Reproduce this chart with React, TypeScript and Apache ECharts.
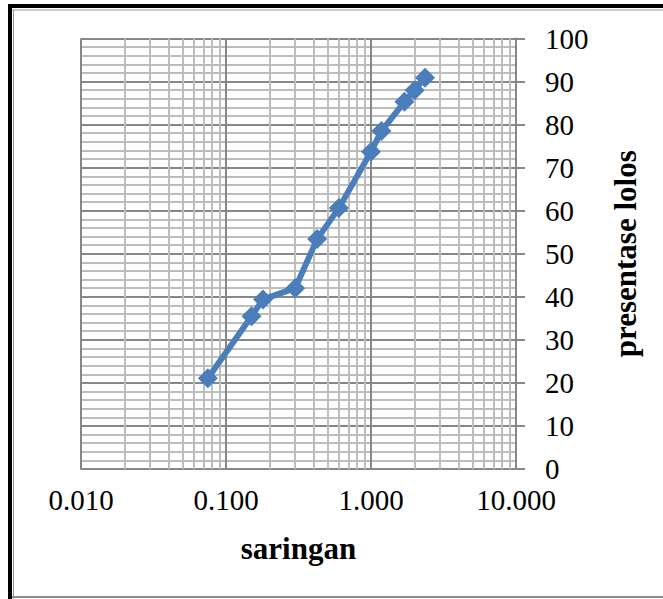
import React, { useEffect, useRef } from "react";
import * as echarts from "echarts";

const sieveSizes = [0.075, 0.15, 0.18, 0.3, 0.425, 0.6, 1.0, 1.18, 1.7, 2.0, 2.36];
const percentPassing = [21.1, 35.5, 39.4, 42.0, 53.4, 60.6, 73.7, 78.5, 85.3, 88.0, 90.9];
const minorGridX = [
  0.02, 0.03, 0.04, 0.05, 0.06, 0.07, 0.08, 0.09,
  0.2, 0.3, 0.4, 0.5, 0.6, 0.7, 0.8, 0.9,
  2, 3, 4, 5, 6, 7, 8, 9,
];
const xTitle = "saringan";
const yTitle = "presentase lolos";

const FONT = "'Liberation Serif', 'Times New Roman', serif";

export default function App() {
  const ref = useRef<HTMLDivElement>(null);
  useEffect(() => {
    if (!ref.current) return;
    const chart = echarts.init(ref.current, null, { renderer: "svg" });
    const MAJOR = "#878787";
    const MINOR = "#bdbdbd";
    chart.setOption({
      animation: false,
      backgroundColor: "#ffffff",
      grid: { left: 81, right: 147, top: 38.5, bottom: 130 },
      xAxis: {
        type: "log",
        logBase: 10,
        min: 0.01,
        max: 10,
        name: xTitle,
        nameLocation: "middle",
        nameGap: 64,
        nameTextStyle: { fontFamily: FONT, fontSize: 31, fontWeight: "bold", color: "#000" },
        axisLine: { show: true, lineStyle: { color: MAJOR, width: 2 } },
        axisTick: { show: false },
        axisLabel: {
          fontFamily: FONT,
          fontSize: 29,
          color: "#000",
          margin: 16,
          formatter: (v: number) => v.toFixed(3),
        },
        splitLine: { show: true, lineStyle: { color: MAJOR, width: 2 } },
      },
      yAxis: {
        type: "value",
        position: "right",
        min: 0,
        max: 100,
        interval: 10,
        name: yTitle,
        nameLocation: "middle",
        nameRotate: 90,
        nameGap: 94,
        nameTextStyle: { fontFamily: FONT, fontSize: 31, fontWeight: "bold", color: "#000" },
        axisLine: { show: true, lineStyle: { color: MAJOR, width: 2 } },
        axisTick: { show: true, inside: false, length: 9, lineStyle: { color: MAJOR, width: 2 } },
        axisLabel: { fontFamily: FONT, fontSize: 29, color: "#000", margin: 29 },
        splitLine: { show: true, lineStyle: { color: MAJOR, width: 2 } },
        minorTick: { show: false, splitNumber: 5 },
        minorSplitLine: { show: true, lineStyle: { color: MINOR, width: 2 } },
      },
      series: [
        {
          type: "line",
          data: [],
          silent: true,
          z: 1,
          markLine: {
            silent: true,
            symbol: ["none", "none"],
            label: { show: false },
            lineStyle: { color: MINOR, width: 2, type: "solid" },
            data: minorGridX.map((v) => ({ xAxis: v })),
          },
        },
        {
          type: "line",
          z: 5,
          data: sieveSizes.map((s, i) => [s, percentPassing[i]]),
          symbol: "diamond",
          symbolSize: 20,
          lineStyle: { color: "#4a7ebb", width: 6 },
          itemStyle: { color: "#4a7ebb" },
        },
      ],
      graphic: [
        { type: "line", shape: { x1: 8, y1: 6, x2: 663, y2: 6 }, style: { stroke: "#000", lineWidth: 4 } },
        { type: "line", shape: { x1: 12, y1: 10, x2: 663, y2: 10 }, style: { stroke: "#9a9a9a", lineWidth: 1 } },
        { type: "line", shape: { x1: 10, y1: 4, x2: 10, y2: 599 }, style: { stroke: "#000", lineWidth: 4 } },
        { type: "line", shape: { x1: 13.5, y1: 10, x2: 13.5, y2: 599 }, style: { stroke: "#9a9a9a", lineWidth: 1 } },
        { type: "line", shape: { x1: 12, y1: 597, x2: 663, y2: 597 }, style: { stroke: "#8a8a8a", lineWidth: 2 } },
      ],
    });
    return () => chart.dispose();
  }, []);
  return (
    <div
      ref={ref}
      style={{ position: "fixed", left: 0, top: 0, width: 663, height: 599 }}
    />
  );
}
